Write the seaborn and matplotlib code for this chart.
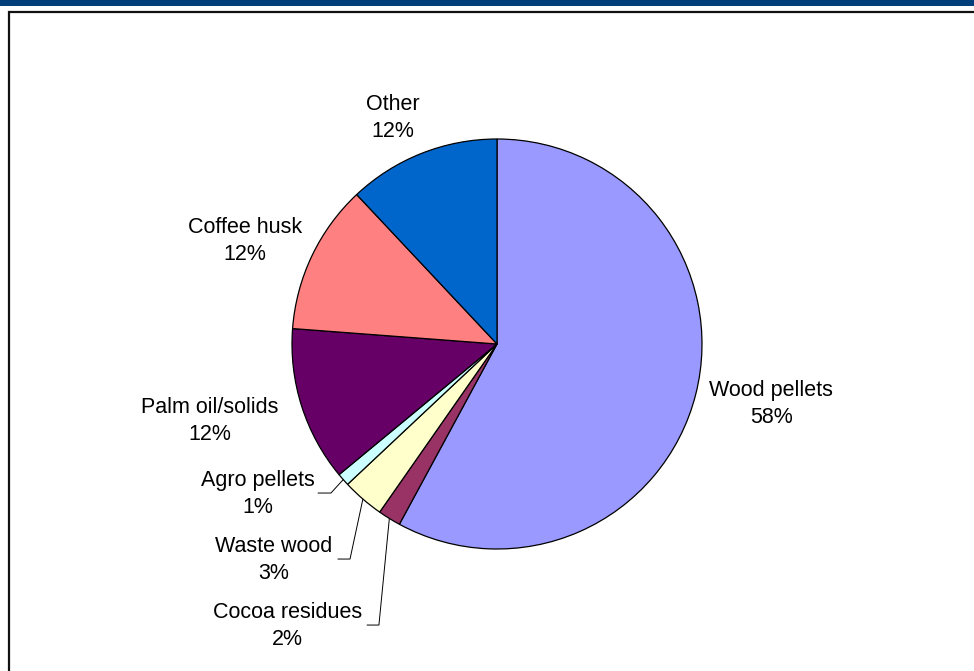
import matplotlib
matplotlib.use("Agg")
import matplotlib.pyplot as plt
import seaborn as sns
import numpy as np
from matplotlib.patches import Rectangle

sns.set_theme(style="white")
plt.rcParams['font.family'] = ['Liberation Sans', 'DejaVu Sans']

# Data (clockwise from 12 o'clock)
categories = ["Wood pellets", "Cocoa residues", "Waste wood", "Agro pellets",
              "Palm oil/solids", "Coffee husk", "Other"]
shares = [57.9, 1.8, 3.3, 1.0, 12.2, 11.8, 12.0]
colors = ["#9999FF", "#993366", "#FFFFCC", "#CCFFFF", "#660066", "#FF8080", "#0066CC"]

# label placement (data units, pie radius = 1)
label_pos = {
    "Wood pellets": (1.337, -0.293),
    "Cocoa residues": (-1.024, -1.376),
    "Waste wood": (-1.088, -1.054),
    "Agro pellets": (-1.166, -0.732),
    "Palm oil/solids": (-1.400, -0.376),
    "Coffee husk": (-1.229, 0.502),
    "Other": (-0.507, 1.102),
}
# leader lines: (elbow, end) for small slices
leaders = {
    "Agro pellets": ((-0.810, -0.727), (-0.873, -0.727)),
    "Waste wood": ((-0.717, -1.049), (-0.776, -1.049)),
    "Cocoa residues": ((-0.576, -1.371), (-0.634, -1.371)),
}

W, H = 974, 671
fig = plt.figure(figsize=(W / 100, H / 100), dpi=100)
fig.patch.set_facecolor("white")
ax = fig.add_axes([0, 0, 1, 1])

cx, cy, R = 497, 344, 205
wedges, _ = ax.pie(shares, colors=colors, startangle=90, counterclock=False,
                   radius=1.0, center=(0, 0), frame=True,
                   wedgeprops=dict(edgecolor="black", linewidth=0.9))
ax.set_xlim(-cx / R, (W - cx) / R)
ax.set_ylim(-(H - cy) / R, cy / R)
ax.set_aspect("equal")
ax.set_axis_off()

for w, cat, val in zip(wedges, categories, shares):
    x, y = label_pos[cat]
    ax.text(x, y, f"{cat}\n{round(val):d}%", ha="center", va="center",
            fontsize=15.5, color="black", linespacing=1.42)
    if cat in leaders:
        mid = np.deg2rad((w.theta1 + w.theta2) / 2)
        sx, sy = np.cos(mid), np.sin(mid)
        (ex, ey), (fx, fy) = leaders[cat]
        ax.plot([sx, ex, fx], [sy, ey, fy], color="black", lw=0.7,
                solid_joinstyle="miter")

# top banner and frame
fig.add_artist(Rectangle((0, 1 - 5.5 / H), 1, 5.5 / H, transform=fig.transFigure,
                         facecolor="#003F7A", edgecolor="none"))
fig.add_artist(Rectangle((8.5 / W, -0.05), 1.2, 1 - 12 / H + 0.05,
                         transform=fig.transFigure, fill=False,
                         edgecolor="#111111", linewidth=1.6))

fig.savefig("out.png", dpi=100)
